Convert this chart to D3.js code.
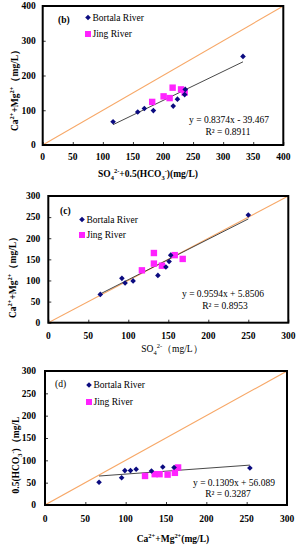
<!DOCTYPE html>
<html>
<head>
<meta charset="utf-8">
<script src="https://cdn.jsdelivr.net/npm/d3@7"></script>
<style>
  html, body { margin: 0; padding: 0; background: #fff; }
  svg { display: block; }
</style>
</head>
<body>
<svg id="chart" width="308" height="550"></svg>
<script>
// ---------- DATA ----------
const seriesNames = ["Bortala River", "Jing River"];

// Panel (b): SO4 + 0.5(HCO3) vs Ca+Mg
const bBortalaX = [117, 158, 169, 184, 217, 224, 236, 237, 333];
const bBortalaY = [67, 95, 105, 99, 112, 132, 145, 160, 255];
const bJingX = [182, 216, 201, 211, 230, 236];
const bJingY = [124, 165, 140, 135, 160, 151];
const bFit = { slope: 0.8374, intercept: -39.467, eq: "y = 0.8374x - 39.467", r2: "R² = 0.8911" };
const bXTicks = [0, 50, 100, 150, 200, 250, 300, 350, 400];
const bYTicks = [0, 100, 200, 300, 400];

// Panel (c): SO4 vs Ca+Mg
const cBortalaX = [65, 92, 96, 106, 137, 147, 151, 153, 250];
const cBortalaY = [67, 105, 94, 99, 112, 132, 145, 160, 255];
const cJingX = [117, 132, 132, 142, 158, 168];
const cJingY = [124, 165, 140, 135, 160, 151];
const cFit = { slope: 0.9594, intercept: 5.8506, eq: "y = 0.9594x + 5.8506", r2: "R² = 0.8953" };
const cXTicks = [0, 50, 100, 150, 200, 250, 300];
const cYTicks = [0, 50, 100, 150, 200, 250, 300];

// Panel (d): Ca+Mg vs 0.5(HCO3)
const dBortalaX = [67, 95, 99, 106, 113, 132, 146, 160, 254];
const dBortalaY = [51, 61, 77, 77, 80, 76, 85, 84, 83];
const dJingX = [124, 136, 142, 152, 161, 165];
const dJingY = [65, 69, 69, 68, 72, 84];
const dFit = { slope: 0.1309, intercept: 56.089, eq: "y = 0.1309x + 56.089", r2: "R² = 0.3287" };
const dXTicks = [0, 50, 100, 150, 200, 250, 300];
const dYTicks = [0, 50, 100, 150, 200, 250, 300];

// ---------- STYLE ----------
const FONT = "'Liberation Serif', 'Times New Roman', serif";
const NAVY = "#0b0b80";
const PINK = "#ff22ff";
const ORANGE = "#f7a868";
const FITC = "#333333";

const svg = d3.select("#chart");

function rich(textSel, parts, size) {
  let cur = 0;
  parts.forEach(p => {
    const t = typeof p === "string" ? p : p[0];
    const k = typeof p === "string" ? "n" : p[1];
    const target = k === "sup" ? -0.38 * size : k === "sub" ? 0.28 * size : 0;
    const ts = textSel.append("tspan").text(t).attr("dy", target - cur);
    if (k !== "n") ts.attr("font-size", size * 0.68);
    cur = target;
  });
}

function panel(cfg) {
  const g = svg.append("g");
  const x = d3.scaleLinear().domain([0, cfg.max]).range([cfg.left, cfg.right]);
  const y = d3.scaleLinear().domain([0, cfg.max]).range([cfg.bottom, cfg.top]);

  // ticks (inward) via d3 axes
  const xAxis = d3.axisBottom(x).tickValues(cfg.xTicks).tickSize(-3).tickFormat("");
  const yAxis = d3.axisLeft(y).tickValues(cfg.yTicks).tickSize(-3).tickFormat("");
  const gx = g.append("g").attr("transform", `translate(0,${cfg.bottom})`).call(xAxis);
  const gy = g.append("g").attr("transform", `translate(${cfg.left},0)`).call(yAxis);
  [gx, gy].forEach(a => {
    a.select(".domain").remove();
    a.selectAll(".tick line").attr("stroke", "#000").attr("stroke-width", 0.8);
  });

  // tick labels
  g.selectAll(null).data(cfg.xTicks).enter().append("text")
    .attr("x", d => x(d)).attr("y", cfg.xLabelY)
    .attr("text-anchor", "middle").attr("font-family", FONT)
    .attr("font-weight", "bold").attr("font-size", 9.5).text(d => d);
  g.selectAll(null).data(cfg.yTicks).enter().append("text")
    .attr("x", cfg.left - cfg.yLabelGap).attr("y", d => y(d)).attr("dy", "0.35em")
    .attr("text-anchor", "end").attr("font-family", FONT)
    .attr("font-weight", "bold").attr("font-size", 9.5).text(d => d);

  // clip
  const cid = "clip" + cfg.id;
  svg.append("clipPath").attr("id", cid).append("rect")
    .attr("x", cfg.left).attr("y", cfg.top)
    .attr("width", cfg.right - cfg.left).attr("height", cfg.bottom - cfg.top);
  const inner = g.append("g").attr("clip-path", `url(#${cid})`);

  // 1:1 line
  inner.append("line")
    .attr("x1", x(0)).attr("y1", y(0)).attr("x2", x(cfg.max)).attr("y2", y(cfg.max))
    .attr("stroke", ORANGE).attr("stroke-width", 1.1);

  // fit line over Bortala range
  const fx = d3.extent(cfg.bx);
  inner.append("line")
    .attr("x1", x(fx[0])).attr("y1", y(cfg.fit.slope * fx[0] + cfg.fit.intercept))
    .attr("x2", x(fx[1])).attr("y2", y(cfg.fit.slope * fx[1] + cfg.fit.intercept))
    .attr("stroke", FITC).attr("stroke-width", 0.9);

  // Jing squares
  const jd = cfg.jx.map((v, i) => [v, cfg.jy[i]]);
  inner.selectAll(null).data(jd).enter().append("rect")
    .attr("x", d => x(d[0]) - 3.2).attr("y", d => y(d[1]) - 3.2)
    .attr("width", 6.4).attr("height", 6.4).attr("fill", PINK);

  // Bortala diamonds
  const bd = cfg.bx.map((v, i) => [v, cfg.by[i]]);
  const dia = d3.symbol().type(d3.symbolDiamond2).size(20);
  inner.selectAll(null).data(bd).enter().append("path")
    .attr("d", dia).attr("transform", d => `translate(${x(d[0])},${y(d[1])})`)
    .attr("fill", NAVY);

  // frame
  g.append("rect")
    .attr("x", cfg.left).attr("y", cfg.top)
    .attr("width", cfg.right - cfg.left).attr("height", cfg.bottom - cfg.top)
    .attr("fill", "none").attr("stroke", "#000").attr("stroke-width", 2);

  // panel label
  g.append("text").attr("x", cfg.label[0]).attr("y", cfg.label[1])
    .attr("font-family", FONT).attr("font-size", 9.5)
    .attr("font-weight", cfg.labelBold ? "bold" : "normal").text(cfg.labelText);

  // legend
  const lg = cfg.legend;
  g.append("path").attr("d", dia)
    .attr("transform", `translate(${lg[0]},${lg[1]})`).attr("fill", NAVY);
  g.append("text").attr("x", lg[0] + 4.5).attr("y", lg[1]).attr("dy", "0.35em")
    .attr("font-family", FONT).attr("font-size", 9.5).text(seriesNames[0]);
  g.append("rect").attr("x", lg[0] - 3).attr("y", lg[1] + lg[2] - 3)
    .attr("width", 6).attr("height", 6).attr("fill", PINK);
  g.append("text").attr("x", lg[0] + 4.5).attr("y", lg[1] + lg[2]).attr("dy", "0.35em")
    .attr("font-family", FONT).attr("font-size", 9.5).text(seriesNames[1]);

  // equation
  g.append("text").attr("x", cfg.eqPos[0]).attr("y", cfg.eqPos[1]).attr("dy", "0.35em")
    .attr("text-anchor", "middle").attr("font-family", FONT).attr("font-size", 9.5)
    .text(cfg.fit.eq);
  g.append("text").attr("x", cfg.r2Pos[0]).attr("y", cfg.r2Pos[1]).attr("dy", "0.35em")
    .attr("text-anchor", "middle").attr("font-family", FONT).attr("font-size", 9.5)
    .text(cfg.fit.r2);

  // x title
  const xt = g.append("text").attr("x", cfg.xTitle[0]).attr("y", cfg.xTitle[1])
    .attr("text-anchor", "middle").attr("font-family", FONT).attr("font-size", 9.5)
    .attr("font-weight", cfg.xTitleBold ? "bold" : "normal");
  rich(xt, cfg.xTitleParts, 9.5);

  // y title
  const yt = g.append("text")
    .attr("transform", `translate(${cfg.yTitle[0]},${cfg.yTitle[1]}) rotate(-90)`)
    .attr("text-anchor", "middle").attr("font-family", FONT).attr("font-size", 9.5)
    .attr("font-weight", "bold");
  rich(yt, cfg.yTitleParts, 9.5);
}

const caMgParts = ["Ca", ["2+", "sup"], "+Mg", ["2+", "sup"], "（mg/L）"];

panel({
  id: "b", max: 400, left: 42.7, right: 283.3, top: 6, bottom: 145,
  xTicks: bXTicks, yTicks: bYTicks, xLabelY: 159.5, yLabelGap: 7,
  bx: bBortalaX, by: bBortalaY, jx: bJingX, jy: bJingY, fit: bFit,
  label: [58, 23], labelText: "(b)", labelBold: true,
  legend: [88, 17.5, 16.5],
  eqPos: [229, 120], r2Pos: [228, 131.5],
  xTitle: [148, 177], xTitleBold: true,
  xTitleParts: ["SO", ["4", "sub"], ["2-", "sup"], "+0.5(HCO", ["3", "sub"], ["-", "sup"], ")(mg/L)"],
  yTitle: [18, 88], yTitleParts: caMgParts
});

panel({
  id: "c", max: 300, left: 48.3, right: 288.3, top: 196, bottom: 322.7,
  xTicks: cXTicks, yTicks: cYTicks, xLabelY: 338.5, yLabelGap: 8,
  bx: cBortalaX, by: cBortalaY, jx: cJingX, jy: cJingY, fit: cFit,
  label: [60, 214], labelText: "(c)", labelBold: true,
  legend: [82, 219.5, 15.5],
  eqPos: [223, 294], r2Pos: [225, 305.5],
  xTitle: [172, 352], xTitleBold: false,
  xTitleParts: ["SO", ["4", "sub"], ["2-", "sup"], "（mg/L）"],
  yTitle: [16, 275], yTitleParts: caMgParts
});

panel({
  id: "d", max: 300, left: 45, right: 287, top: 371, bottom: 505,
  xTicks: dXTicks, yTicks: dYTicks, xLabelY: 521.5, yLabelGap: 9,
  bx: dBortalaX, by: dBortalaY, jx: dJingX, jy: dJingY, fit: dFit,
  label: [55, 387], labelText: "(d)", labelBold: false,
  legend: [89, 385, 17],
  eqPos: [234, 482.5], r2Pos: [228, 494],
  xTitle: [173, 542], xTitleBold: true,
  xTitleParts: ["Ca", ["2+", "sup"], "+Mg", ["2+", "sup"], "(mg/L)"],
  yTitle: [19, 455], yTitleParts: ["0.5(HCO", ["3", "sub"], ["-", "sup"], ")（mg/L"]
});
</script>
</body>
</html>
